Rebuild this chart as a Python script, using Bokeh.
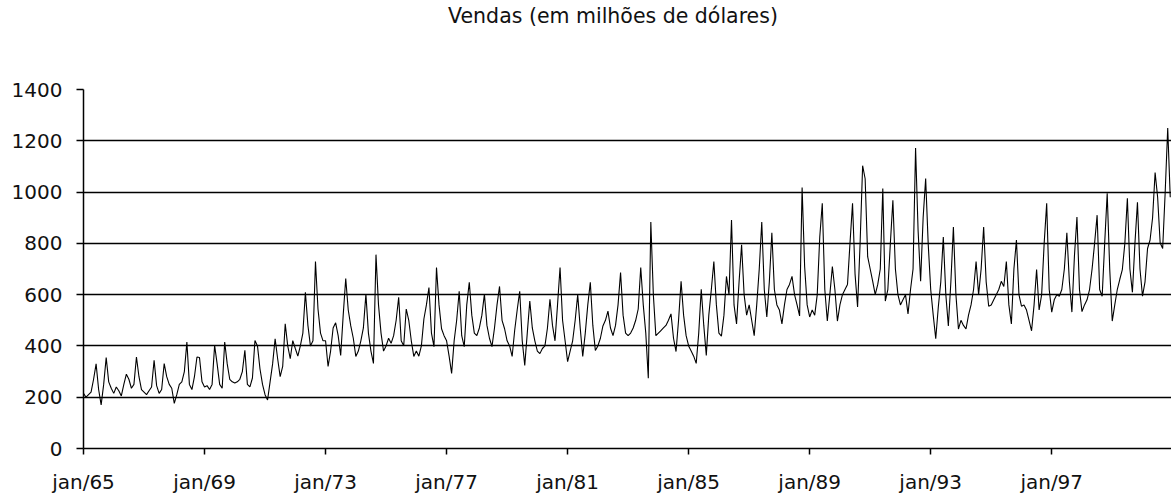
from bokeh.plotting import figure
from bokeh.models import Range1d, FixedTicker, LinearAxis
from bokeh.embed import file_html
from bokeh.resources import INLINE

title_text = "Vendas (em milhões de dólares)"
tick_labels = ["jan/65", "jan/69", "jan/73", "jan/77", "jan/81", "jan/85", "jan/89", "jan/93", "jan/97"]
y_ticks = [0, 200, 400, 600, 800, 1000, 1200, 1400]

# monthly sales, jan..dec, one list per year
v1965 = [215, 200, 210, 220, 270, 330, 230, 170, 250, 355, 260, 235]
v1966 = [215, 240, 225, 205, 250, 290, 270, 235, 250, 357, 280, 230]
v1967 = [220, 210, 225, 240, 344, 245, 215, 230, 331, 280, 250, 235]
v1968 = [176, 210, 250, 260, 300, 415, 250, 230, 280, 357, 355, 260]
v1969 = [240, 245, 230, 250, 402, 330, 250, 235, 415, 330, 270, 260]
v1970 = [255, 260, 270, 300, 383, 250, 240, 275, 421, 400, 310, 250]
v1971 = [210, 189, 260, 330, 428, 350, 280, 320, 486, 400, 350, 421]
v1972 = [390, 360, 400, 450, 609, 480, 400, 420, 729, 544, 450, 420]
v1973 = [420, 320, 380, 470, 490, 440, 363, 520, 663, 540, 478, 430]
v1974 = [359, 380, 420, 470, 602, 450, 380, 332, 756, 560, 450, 380]
v1975 = [400, 430, 410, 440, 500, 590, 420, 401, 544, 500, 420, 359]
v1976 = [380, 360, 400, 505, 560, 628, 450, 397, 706, 560, 467, 440]
v1977 = [420, 360, 293, 420, 500, 613, 440, 397, 560, 648, 520, 450]
v1978 = [440, 470, 520, 602, 480, 430, 397, 470, 560, 632, 500, 467]
v1979 = [420, 400, 359, 460, 540, 613, 420, 324, 450, 575, 470, 420]
v1980 = [380, 370, 390, 400, 470, 582, 480, 420, 560, 706, 500, 420]
v1981 = [339, 380, 420, 500, 600, 470, 359, 450, 560, 648, 480, 382]
v1982 = [400, 430, 478, 500, 536, 470, 440, 480, 560, 686, 520, 450]
v1983 = [440, 450, 470, 500, 544, 706, 560, 450, 274, 883, 600, 440]
v1984 = [450, 460, 470, 480, 500, 525, 430, 378, 500, 652, 520, 440]
v1985 = [400, 380, 360, 332, 450, 621, 480, 363, 520, 620, 729, 560]
v1986 = [450, 438, 520, 671, 600, 891, 560, 486, 650, 794, 600, 520]
v1987 = [560, 500, 440, 560, 700, 883, 620, 513, 650, 841, 620, 560]
v1988 = [540, 486, 560, 620, 640, 671, 600, 560, 517, 1018, 710, 560]
v1989 = [513, 540, 520, 600, 825, 956, 620, 497, 600, 710, 620, 497]
v1990 = [560, 600, 620, 640, 802, 956, 680, 552, 800, 1103, 1052, 748]
v1991 = [700, 652, 600, 640, 700, 1014, 575, 620, 800, 968, 700, 600]
v1992 = [560, 580, 600, 525, 620, 700, 1172, 850, 652, 900, 1053, 800]
v1993 = [620, 520, 428, 550, 650, 825, 600, 478, 650, 864, 600, 466]
v1994 = [500, 480, 466, 520, 560, 620, 729, 600, 700, 864, 650, 555]
v1995 = [560, 580, 600, 620, 652, 632, 729, 560, 486, 700, 813, 600]
v1996 = [555, 560, 540, 500, 459, 560, 698, 540, 600, 800, 956, 620]
v1997 = [532, 580, 600, 594, 620, 700, 841, 650, 532, 750, 903, 620]
v1998 = [534, 560, 580, 620, 700, 800, 910, 620, 594, 800, 995, 700]
v1999 = [497, 560, 620, 660, 698, 800, 976, 700, 609, 800, 960, 700]
v2000 = [594, 650, 780, 813, 900, 1076, 980, 802, 780, 1000, 1250, 980]

years = [v1965, v1966, v1967, v1968, v1969, v1970, v1971, v1972, v1973,
         v1974, v1975, v1976, v1977, v1978, v1979, v1980, v1981, v1982,
         v1983, v1984, v1985, v1986, v1987, v1988, v1989, v1990, v1991,
         v1992, v1993, v1994, v1995, v1996, v1997, v1998, v1999, v2000]

sales = [v for yr in years for v in yr]
months = list(range(len(sales)))

FONT = "DejaVu Sans"
TXT = "#111111"
TITLE_POS = 210  # horizontal centre of the title, in month units

p = figure(width=1171, height=496, output_backend="svg", toolbar_location=None, title=None,
           x_range=Range1d(0, 431.5), y_range=Range1d(0, 1400),
           min_border_left=83, min_border_right=0, min_border_top=88, min_border_bottom=45)
p.outline_line_color = None
p.background_fill_color = "white"
p.border_fill_color = "white"

p.line(months, sales, line_color="black", line_width=1.1)

# x axis (bottom)
xax = p.below[0]
xax.ticker = FixedTicker(ticks=[i * 48 for i in range(len(tick_labels))])
xax.major_label_overrides = {i * 48: lab for i, lab in enumerate(tick_labels)}
xax.minor_tick_line_color = None
xax.major_tick_in = 0
xax.major_tick_out = 6
xax.major_label_standoff = 15
xax.axis_line_color = "black"
xax.axis_line_width = 1.5
xax.major_tick_line_width = 1.5
xax.major_label_text_font = FONT
xax.major_label_text_font_size = "20px"
xax.major_label_text_color = TXT

# y axis
yax = p.left[0]
yax.ticker = FixedTicker(ticks=y_ticks)
yax.minor_tick_line_color = None
yax.major_tick_in = 0
yax.major_tick_out = 7
yax.major_label_standoff = 14
yax.axis_line_color = "black"
yax.axis_line_width = 1.5
yax.major_tick_line_width = 1.5
yax.major_label_text_font = FONT
yax.major_label_text_font_size = "20px"
yax.major_label_text_color = TXT

# title drawn as the single label of a bare axis above the frame
title_axis = LinearAxis(ticker=FixedTicker(ticks=[TITLE_POS]),
                        major_label_overrides={TITLE_POS: title_text},
                        axis_line_color=None, major_tick_line_color=None,
                        minor_tick_line_color=None, major_tick_in=0, major_tick_out=0,
                        major_label_standoff=62,
                        major_label_text_font=FONT, major_label_text_font_size="20.5px",
                        major_label_text_color=TXT)
p.add_layout(title_axis, "above")

p.xgrid.grid_line_color = None
p.ygrid.ticker = FixedTicker(ticks=[200, 400, 600, 800, 1000, 1200])
p.ygrid.grid_line_color = "black"
p.ygrid.grid_line_width = 1.5

open("out.html", "w").write(file_html(p, INLINE))
